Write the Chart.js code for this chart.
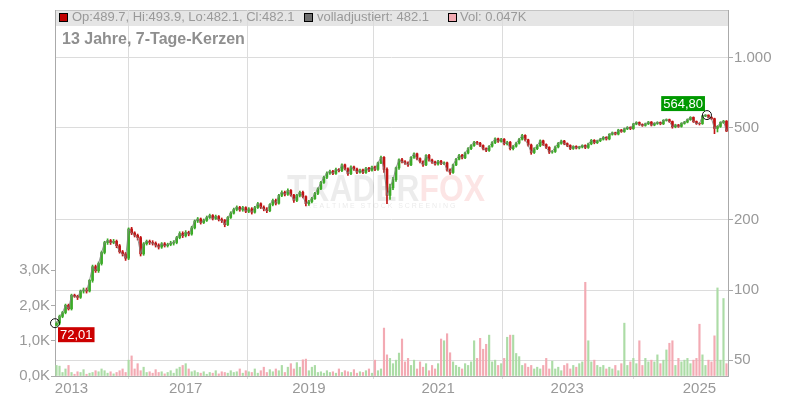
<!DOCTYPE html>
<html><head><meta charset="utf-8">
<script src="https://cdn.jsdelivr.net/npm/chart.js@4"></script>
<style>html,body{margin:0;padding:0;background:#fff}</style>
</head><body>
<canvas id="c" width="800" height="400"></canvas>
<script>
// weekly-ish candles (oldest -> newest)
const closes = [
72.01,77,80,86,83,95,94,93,99,100,
99,110,126,121,130,145,160,163,160,162,
155,146,143,137,183,176,172,168,143,158,
162,160,159,156,153,158,155,157,159,160,
168,175,171,177,174,185,198,202,195,199,
205,209,203,207,201,199,191,205,214,222,
227,221,226,218,223,216,226,235,227,223,
219,233,243,236,255,263,258,268,256,243,
255,263,252,235,240,247,260,272,290,305,
318,324,317,330,326,345,332,316,338,331,
321,328,320,334,327,338,330,352,372,330,
255,275,298,335,363,356,352,345,372,385,
367,356,345,379,362,355,348,358,350,352,
328,320,345,365,379,370,388,405,418,432,
428,418,405,398,415,430,447,436,445,425,
432,405,415,428,445,462,442,420,390,405,
418,438,422,410,392,394,412,427,437,426,
418,406,414,408,412,418,410,425,440,430,
438,445,453,446,467,474,468,487,480,493,
500,494,517,525,515,510,518,527,512,520,
525,518,536,540,530,503,512,505,520,527,
540,552,530,520,519,560,564.8,552,545,495,
505,525,532,482.1];
const highs = [
73,78,81,87,87,96,96,95,100,102,
102,111,128,128,132,147,162,166,165,165,
164,157,148,145,185,186,178,174,170,160,
164,164,163,161,158,160,160,159,162,163,
170,178,178,180,179,188,200,205,204,202,
208,212,211,210,209,204,201,207,217,225,
230,229,229,228,226,226,229,238,237,230,
226,235,246,246,258,267,266,272,270,258,
258,266,266,254,243,250,263,275,293,309,
322,328,327,334,333,349,348,335,342,341,
334,331,331,337,337,341,341,355,376,375,
335,285,305,338,366,368,360,356,375,389,
388,370,359,382,383,365,358,361,361,356,
355,332,348,368,383,383,392,409,422,436,
436,431,421,408,418,434,451,450,449,448,
436,435,419,432,449,467,465,445,424,409,
422,442,441,425,413,398,416,431,441,440,
429,421,417,417,415,421,421,428,444,443,
441,449,457,456,470,478,477,491,490,497,
504,503,521,529,528,518,522,531,530,524,
529,528,540,544,543,533,516,515,524,531,
544,556,555,533,524,563,567,566,556,548,
509,529,536,535];
const lows = [
70,71,76,79,82,82,93,91,92,97,
97,98,108,119,119,128,143,157,157,158,
152,144,140,134,135,173,169,164,140,141,
156,157,156,153,150,151,153,153,155,156,
158,166,168,169,171,172,183,195,192,193,
197,203,200,201,198,195,187,189,203,212,
219,218,218,215,215,212,214,224,224,219,
215,217,230,232,234,252,254,255,253,238,
240,251,249,230,231,237,245,257,270,287,
301,314,313,314,322,323,328,311,313,327,
316,318,316,317,323,324,326,327,349,320,
235,245,270,293,330,352,347,340,342,368,
362,352,340,342,358,350,344,344,346,346,
324,314,317,342,362,366,367,385,401,414,
423,413,400,393,394,411,426,431,432,420,
420,400,400,411,424,441,437,415,383,386,
401,413,418,405,386,387,390,408,423,421,
413,401,402,404,404,408,405,406,421,425,
426,434,441,441,442,463,464,464,476,476,
489,489,490,513,510,505,506,514,507,508,
515,513,514,532,525,496,498,500,501,516,
523,536,525,515,512,515,556,548,540,470,
478,500,520,480];
const firstOpen = 70.5;
// volume in thousands
const volumesK = [
0.30,0.28,0.10,0.20,0.30,0.10,0.05,0.12,0.10,0.18,
0.05,0.08,0.10,0.15,0.12,0.20,0.15,0.08,0.12,0.06,
0.10,0.15,0.20,0.10,0.45,0.57,0.20,0.35,0.15,0.25,
0.10,0.12,0.08,0.18,0.10,0.12,0.06,0.10,0.15,0.08,
0.20,0.25,0.30,0.35,0.20,0.12,0.15,0.10,0.08,0.12,
0.05,0.10,0.08,0.15,0.06,0.12,0.10,0.08,0.15,0.10,
0.12,0.20,0.08,0.15,0.12,0.10,0.20,0.08,0.15,0.25,
0.10,0.18,0.12,0.20,0.15,0.30,0.10,0.25,0.35,0.20,
0.38,0.25,0.46,0.48,0.15,0.25,0.30,0.10,0.12,0.08,
0.15,0.10,0.12,0.08,0.20,0.10,0.15,0.12,0.10,0.18,
0.08,0.12,0.10,0.15,0.20,0.08,0.45,0.15,0.20,1.36,
0.60,0.50,0.35,0.45,0.65,1.05,0.40,0.50,0.30,0.45,
0.20,0.40,0.25,0.35,0.15,0.30,0.20,0.35,1.05,1.00,
1.20,0.66,0.40,0.30,0.25,0.20,0.35,0.30,0.40,1.00,
0.50,1.07,0.76,0.90,1.16,0.40,0.45,0.30,0.35,0.50,
1.10,1.16,1.16,0.64,0.55,0.30,0.35,0.25,0.30,0.20,
0.25,0.20,0.30,0.50,0.20,0.42,0.20,0.25,0.15,0.30,
0.35,0.20,0.30,0.25,0.35,0.40,2.66,1.00,0.40,0.45,
0.30,0.25,0.30,0.20,0.25,0.20,0.30,0.15,0.35,1.50,
0.30,0.40,0.50,0.35,1.00,0.30,0.50,0.40,0.45,0.40,
0.60,0.35,0.45,0.74,0.93,1.00,0.30,0.50,0.40,0.45,
0.50,0.35,0.45,0.50,1.47,0.60,0.30,0.45,0.40,1.14,
2.50,0.45,2.20,0.35];
const yearLabels = ['2013','2017','2019','2021','2023','2025'];
const yearIndex  = [5,43,84,127,170,214];
const priceTicks = [50,100,200,500,1000];
const volumeTicksK = [0,1,2,3];
const headerOHLC = 'Op:489.7, Hi:493.9, Lo:482.1, Cl:482.1';
const headerAdj = 'volladjustiert: 482.1';
const headerVol = 'Vol: 0.047K';
const subtitle = '13 Jahre, 7-Tage-Kerzen';

const N = closes.length;
const opens = closes.map((c,i)=> i===0 ? firstOpen : closes[i-1]);
const up = closes.map((c,i)=> c >= opens[i]);
const FONT = "Arial, 'Liberation Sans', sans-serif";
const fmtDE = v => v.toFixed(2).replace('.', ',');
const GREEN = '#3caa28', RED = '#c01414';

const overlay = {
  id:'overlay',
  beforeDraw(chart){
    const {ctx, chartArea:a} = chart;
    ctx.save();
    ctx.fillStyle = '#e5e5e5';
    ctx.fillRect(a.left, a.top, a.right - a.left, 16);
    ctx.strokeStyle = '#c4c4c4';
    ctx.lineWidth = 1;
    ctx.beginPath(); ctx.moveTo(a.left, a.top + 0.5); ctx.lineTo(a.right, a.top + 0.5); ctx.stroke();
    ctx.restore();
  },
  beforeDatasetsDraw(chart){
    const {ctx} = chart;
    ctx.save();
    ctx.save();
    ctx.translate(287, 201);
    ctx.scale(0.86, 1);
    ctx.font = 'bold 37px ' + FONT;
    ctx.textBaseline = 'alphabetic';
    ctx.fillStyle = 'rgba(0,0,0,0.075)';
    const wT = ctx.measureText('TRADER').width;
    ctx.fillText('TRADER', 0, 0);
    ctx.fillStyle = 'rgba(235,70,70,0.14)';
    ctx.fillText('FOX', wT, 0);
    ctx.restore();
    ctx.font = '7px ' + FONT;
    ctx.fillStyle = 'rgba(0,0,0,0.09)';
    ctx.fillText('R E A L T I M E   S T O C K   S C R E E N I N G', 306, 208);
    ctx.textBaseline = 'middle';
    ctx.font = '13px ' + FONT;
    const sq = (x, col) => {
      ctx.fillStyle = col; ctx.fillRect(x, 13, 8, 8);
      ctx.strokeStyle = '#000'; ctx.lineWidth = 1; ctx.strokeRect(x + 0.5, 13.5, 8, 8);
    };
    sq(59, '#c00000'); sq(304, '#6e6e6e'); sq(448, '#f2aab2');
    ctx.fillStyle = '#999';
    ctx.fillText(headerOHLC, 72, 17.5);
    ctx.fillText(headerAdj, 317, 17.5);
    ctx.fillText(headerVol, 460, 17.5);
    ctx.font = 'bold 16px ' + FONT;
    ctx.fillStyle = '#8f8f8f';
    ctx.fillText(subtitle, 62, 40);
    ctx.restore();
  },
  afterDatasetsDraw(chart){
    const {ctx, scales} = chart;
    ctx.save();
    ctx.font = '13px ' + FONT;
    ctx.textBaseline = 'middle';
    ctx.textAlign = 'center';
    const sx = scales.x.getPixelForValue(0) - 1.5, sy = scales.y.getPixelForValue(closes[0]);
    ctx.strokeStyle = '#111'; ctx.lineWidth = 1;
    ctx.beginPath(); ctx.arc(sx, sy, 4.5, 0, Math.PI*2); ctx.stroke();
    let t = fmtDE(closes[0]); let w = ctx.measureText(t).width + 4;
    ctx.fillStyle = '#cc0000'; ctx.fillRect(sx + 3, sy + 4, w, 15);
    ctx.fillStyle = '#fff'; ctx.fillText(t, sx + 3 + w/2, sy + 12);
    let mi = 0; closes.forEach((c,i)=>{ if (c > closes[mi]) mi = i; });
    const mx = scales.x.getPixelForValue(mi) + 1.5, my = scales.y.getPixelForValue(closes[mi]);
    ctx.beginPath(); ctx.arc(mx, my, 4.5, 0, Math.PI*2); ctx.stroke();
    t = fmtDE(closes[mi]); w = ctx.measureText(t).width + 4;
    ctx.fillStyle = '#009900'; ctx.fillRect(mx - 2 - w, my - 19, w, 15);
    ctx.fillStyle = '#fff'; ctx.fillText(t, mx - 2 - w/2, my - 11);
    ctx.restore();
  }
};

new Chart(document.getElementById('c'), {
  data: {
    datasets: [
      { type:'line', order:0, yAxisID:'y', xAxisID:'x',
        data: closes.map((c,i)=>({x:i, y:c})),
        borderColor:'rgba(128,128,128,0.85)', borderWidth:1, pointRadius:0, tension:0 },
      { type:'bar', order:1, yAxisID:'y', xAxisID:'x', grouped:false,
        data: closes.map((c,i)=>({x:i, y:[opens[i], c]})),
        backgroundColor: up.map(u => u ? GREEN : RED),
        barThickness:2, borderWidth:0 },
      { type:'bar', order:2, yAxisID:'y', xAxisID:'x', grouped:false,
        data: closes.map((c,i)=>({x:i, y:[lows[i], highs[i]]})),
        backgroundColor: up.map(u => u ? GREEN : RED),
        barThickness:1, borderWidth:0 },
      { type:'bar', order:3, yAxisID:'yv', xAxisID:'x', grouped:false,
        data: volumesK.map((v,i)=>({x:i, y:v})),
        backgroundColor: up.map(u => u ? '#acdca6' : '#f3aab3'),
        barThickness:1.5, borderWidth:0 }
    ]
  },
  options: {
    responsive:false, animation:false, devicePixelRatio:1,
    layout:{ padding:{ top:9, left:0, right:0, bottom:0 } },
    plugins:{ legend:{display:false}, tooltip:{enabled:false} },
    scales:{
      x:{ type:'linear', min:-0.5, max:N-0.5, offset:false,
        afterBuildTicks: s => { s.ticks = yearIndex.map(v=>({value:v})); },
        afterFit: s => { s.height = 24; },
        ticks:{ autoSkip:false, maxRotation:0, padding:1, color:'#999', font:{family:FONT, size:15},
          callback: v => { const k = yearIndex.indexOf(v); return k >= 0 ? yearLabels[k] : ''; } },
        grid:{ color:'#dcdcdc', tickLength:3, tickColor:'#dcdcdc' },
        border:{ color:'#aaa' } },
      y:{ type:'logarithmic', position:'right', min:42.7, max:1598,
        afterBuildTicks: s => { s.ticks = priceTicks.map(v=>({value:v})); },
        afterFit: s => { s.width = 72; },
        ticks:{ padding:1, color:'#999', font:{family:FONT, size:15},
          callback: v => v >= 1000 ? (v/1000).toFixed(3) : String(v) },
        grid:{ color:'#dcdcdc', tickLength:5, tickColor:'#aaa' },
        border:{ color:'#aaa' } },
      yv:{ type:'linear', position:'left', min:0, max:10.39,
        afterBuildTicks: s => { s.ticks = volumeTicksK.map(v=>({value:v})); },
        afterFit: s => { s.width = 55; },
        ticks:{ padding:1, color:'#999', font:{family:FONT, size:15},
          callback: v => v.toFixed(1).replace('.', ',') + 'K' },
        grid:{ drawOnChartArea:false, tickLength:4, tickColor:'#aaa' },
        border:{ color:'#aaa' } }
    }
  },
  plugins:[overlay]
});
</script>
</body></html>
